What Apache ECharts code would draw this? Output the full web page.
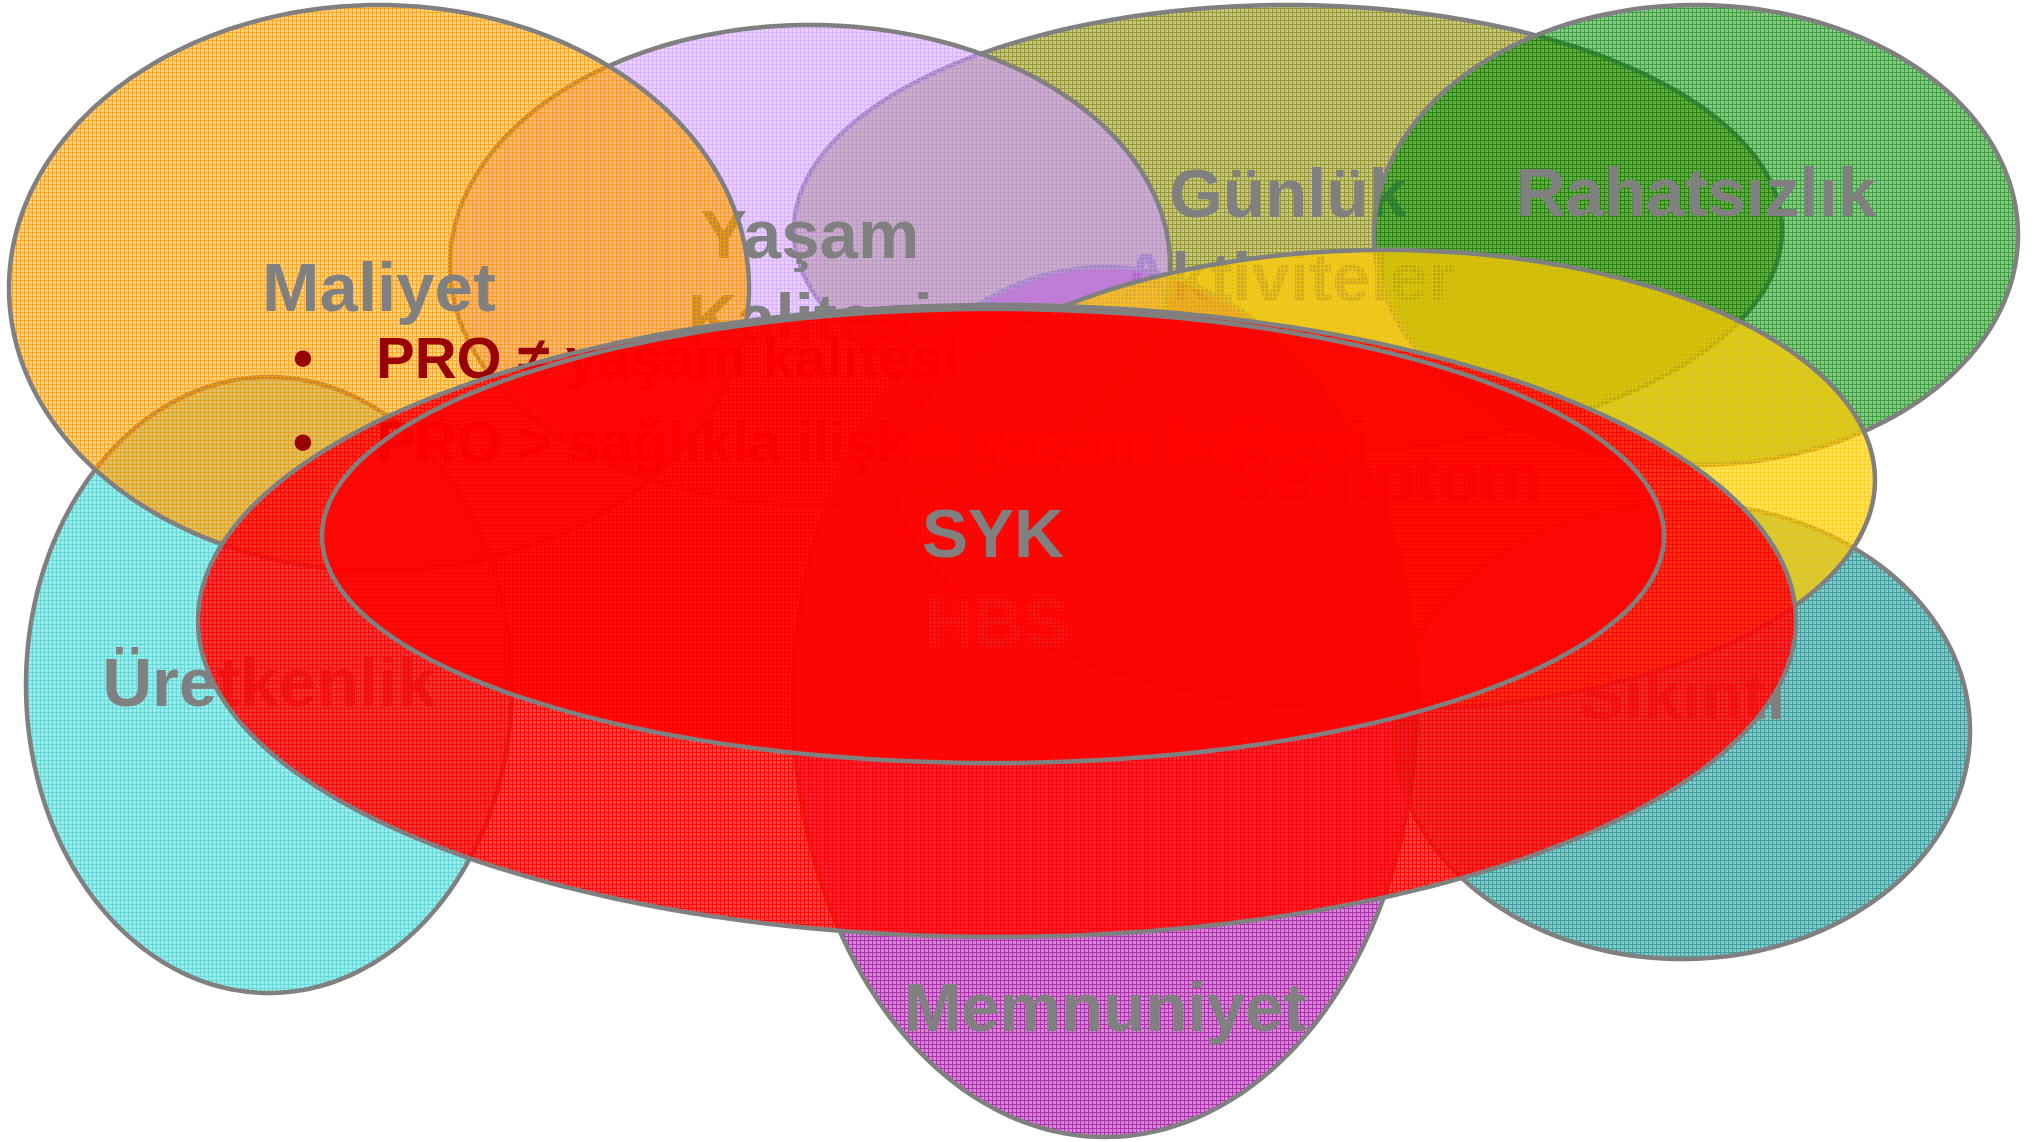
<!DOCTYPE html>
<html>
<head>
<meta charset="utf-8">
<style>
html,body{margin:0;padding:0;background:#ffffff;}
#chart{width:2034px;height:1142px;}
</style>
<script src="https://cdn.jsdelivr.net/npm/echarts@6/dist/echarts.min.js"></script>
</head>
<body>
<div id="chart"></div>
<script>
// ---- Data (diagram units: same scale as the picture) ----
const names   = ['Günlük\nAktiviteler', 'Memnuniyet', 'Yaşam\nKalitesi', 'Üretkenlik', 'Maliyet',
                 'Rahatsızlık', 'Sıkıntı', 'Semptom', 'HBS', 'SYK'];
const centerX = [1288, 1105,  810,  269,  379, 1696, 1682, 1385,  997,  993];
const centerY = [ 230,  702,  265,  685,  288,  235,  731,  480,  621,  536];
const radiusX = [ 494,  312,  360,  243,  370,  322,  288,  490,  799,  671];
const radiusY = [ 225,  435,  240,  308,  283,  230,  228,  230,  316,  227];
const bulletLines = ['PRO ≠ yaşam kalitesi', 'PRO > sağlıkla ilişkili yaşam kalitesi'];

// ---- Styles ----
const baseColors = [[128,128,0],[153,0,153],[204,153,255],[51,204,204],[255,153,0],
                    [0,128,0],[0,128,128],[255,204,0],[255,0,0],[255,0,0]];
const fillAlpha  = [0.45,0.45,0.45,0.45,0.45,0.45,0.45,0.6,0.74,0.78];
const lineAlpha  = [0.8,0.8,0.75,0.75,0.85,0.75,0.75,0.85,0.97,1.0];
const labelShift = [10, 310, 16, 2, 4, -38, -31, 2, 6, 2]; // vertical label shift, px
const FONT = 'bold 69px "Liberation Sans", Arial, sans-serif';
const BULLET_FONT = 'bold 58px "Liberation Sans", Arial, sans-serif';

function makePattern(rgb, a1, a2) {
  const c = document.createElement('canvas');
  c.width = 4; c.height = 4;
  const g = c.getContext('2d');
  g.fillStyle = `rgba(${rgb[0]},${rgb[1]},${rgb[2]},${a1})`;
  g.fillRect(0, 0, 4, 4);
  g.clearRect(0, 0, 4, 1);
  g.clearRect(0, 0, 1, 4);
  g.fillStyle = `rgba(${rgb[0]},${rgb[1]},${rgb[2]},${a2})`;
  g.fillRect(0, 0, 4, 1);
  g.fillRect(0, 1, 1, 3);
  return { type: 'pattern', image: c, repeat: 'repeat' };
}
const patterns = baseColors.map((c, i) => makePattern(c, fillAlpha[i], lineAlpha[i]));

const chart = echarts.init(document.getElementById('chart'), null, { renderer: 'canvas' });

const ellipseData = names.map((n, i) => [centerX[i], centerY[i], radiusX[i], radiusY[i]]);

function zFor(i) { return i * 10 + (i >= 5 ? 10 : 0); }

chart.setOption({
  animation: false,
  backgroundColor: '#ffffff',
  grid: { left: 0, right: 0, top: 0, bottom: 0 },
  xAxis: { type: 'value', min: 0, max: 2034, show: false },
  yAxis: { type: 'value', min: 0, max: 1142, inverse: true, show: false },
  series: [
    {
      type: 'custom',
      coordinateSystem: 'cartesian2d',
      data: ellipseData,
      silent: true,
      renderItem: function (params, api) {
        const i = params.dataIndex;
        const cx = api.value(0), cy = api.value(1), rx = api.value(2), ry = api.value(3);
        const pts = [];
        const N = 240;
        for (let k = 0; k < N; k++) {
          const t = k / N * Math.PI * 2;
          pts.push(api.coord([cx + rx * Math.cos(t), cy + ry * Math.sin(t)]));
        }
        const c = api.coord([cx, cy]);
        const z = zFor(i);
        return {
          type: 'group',
          children: [
            {
              type: 'polygon',
              z2: z,
              shape: { points: pts },
              style: { fill: patterns[i], stroke: '#808080', lineWidth: 4.5 }
            },
            {
              type: 'text',
              z2: z + 1,
              x: c[0],
              y: c[1] + labelShift[i],
              style: {
                text: names[i],
                fill: '#808080',
                font: FONT,
                align: 'center',
                verticalAlign: 'middle',
                lineHeight: 84
              }
            }
          ]
        };
      }
    },
    {
      type: 'custom',
      coordinateSystem: 'cartesian2d',
      data: bulletLines.map((t, i) => [i]),
      silent: true,
      renderItem: function (params, api) {
        const i = params.dataIndex;
        const p = api.coord([303, 362 + i * 84]);
        return {
          type: 'group',
          children: [
            {
              type: 'text', z2: 45, x: p[0], y: p[1],
              style: { text: '•', fill: '#990000', font: BULLET_FONT, align: 'center', verticalAlign: 'middle' }
            },
            {
              type: 'text', z2: 45, x: p[0] + 73, y: p[1],
              style: { text: bulletLines[i], fill: '#990000', font: BULLET_FONT, align: 'left', verticalAlign: 'middle' }
            }
          ]
        };
      }
    }
  ]
});
</script>
</body>
</html>
